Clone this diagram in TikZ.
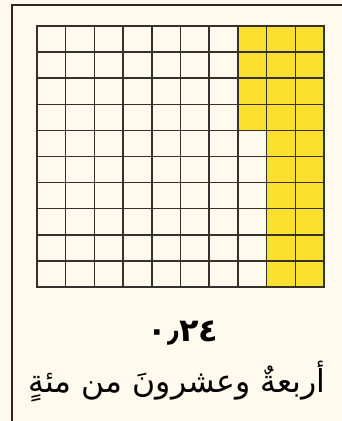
\documentclass[tikz,border=0pt]{standalone}
\usepackage{fontspec}
\usetikzlibrary{positioning}
\TeXXeTstate=1
\newfontfamily\arabicfont[Script=Arabic]{DejaVu Sans}
\definecolor{paper}{HTML}{FFF9EE}
\definecolor{shade}{HTML}{FDE02F}
\definecolor{gridc}{HTML}{35312D}
\definecolor{framec}{HTML}{2A2623}
\tikzset{
  cell/.style={draw=gridc, line width=1.5pt},
  hit/.style={cell, fill=shade},
  edge/.style={draw=framec, line width=2.6pt},
  label/.style={inner sep=0pt, text=black},
}
\newcommand{\cw}{28.7}
\newcommand{\ch}{26.1}
\newcommand{\cellat}[2]{(37+#1*\cw, 26+#2*\ch) rectangle ++(\cw,\ch)}

\begin{document}
\begin{tikzpicture}[x=1pt, y=-1pt]
  \useasboundingbox[fill=paper] (0,0) rectangle (342,421);
  % frame
  \draw[edge] (342,5) -- (12,5) -- (12,421);
  % hundred grid
  \foreach \i in {0,...,9}{\foreach \j in {0,...,9}{%
    \draw[cell] \cellat{\i}{\j};}}
  \foreach \j in {0,...,3} \draw[hit] \cellat{7}{\j};
  \foreach \i in {8,9}{\foreach \j in {0,...,9}{%
    \draw[hit] \cellat{\i}{\j};}}
  % texts
  \node[label, font=\arabicfont\bfseries\fontsize{32}{36}\selectfont] (num) at (183,333) {٠٫٢٤};
  \node[label, font=\arabicfont\fontsize{31.5}{36}\selectfont, anchor=base] (words) at (177,392)
    {\beginR أربعةٌ وعشرونَ من مئةٍ\endR};
\end{tikzpicture}
\end{document}
